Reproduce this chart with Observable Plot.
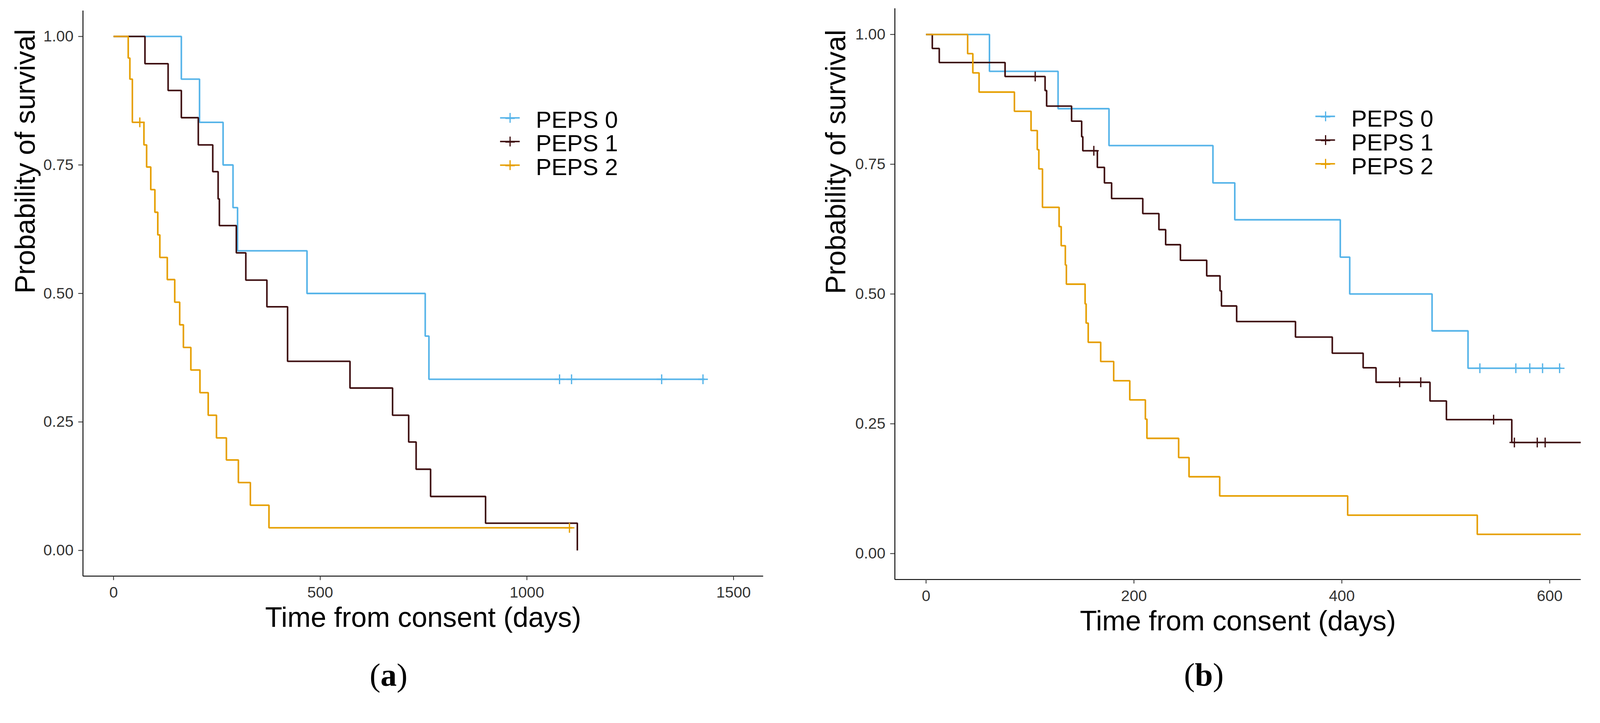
<!DOCTYPE html>
<html>
<head>
<meta charset="utf-8">
<script src="https://cdn.jsdelivr.net/npm/d3@7"></script>
<script src="https://cdn.jsdelivr.net/npm/@observablehq/plot@0.6"></script>
<style>
  html, body { margin: 0; padding: 0; background: #fff; overflow: hidden; }
  #root { position: absolute; left: 0; top: 0; width: 4233px; height: 1850px; background: #fff; overflow: hidden; transform-origin: 0 0; }
  .panel { position: absolute; top: 0; }
  #overlay { position: absolute; left: 0; top: 0; pointer-events: none; }
</style>
</head>
<body>
<div id="root"></div>
<script>
// ---------- data ----------
const groups = ["PEPS 0", "PEPS 1", "PEPS 2"];
const colors = ["#56B4E9", "#3F1012", "#E69F00"];
const yTicks = [0, 0.25, 0.5, 0.75, 1];
const xTicksA = [0, 500, 1000, 1500];
const xTicksB = [0, 200, 400, 600];
const xLabel = "Time from consent (days)";
const yLabel = "Probability of survival";
const captions = ["a", "b"];

// Panel (a): Kaplan-Meier steps (time in days, survival after the step)
const a0_t = [0, 164, 208, 265, 289, 300, 468, 754, 763, 1430];
const a0_s = [1, 0.917, 0.833, 0.750, 0.667, 0.583, 0.500, 0.417, 0.333, 0.333];
const a0_ct = [1079, 1108, 1326, 1426];
const a0_cs = [0.333, 0.333, 0.333, 0.333];

const a1_t = [0, 76, 132, 164, 205, 240, 253, 256, 297, 320, 371, 421, 572, 675, 714, 732, 767, 900, 1122];
const a1_s = [1, 0.947, 0.895, 0.842, 0.789, 0.737, 0.684, 0.632, 0.579, 0.526, 0.474, 0.368, 0.316, 0.263, 0.211, 0.158, 0.105, 0.053, 0];
const a1_ct = [];
const a1_cs = [];

const a2_t = [0, 35.5, 39.5, 45.5, 73.5, 80, 90, 100, 107, 112, 130, 148, 160, 169, 187, 209, 229, 249, 273, 302, 331, 376, 1110];
const a2_s = [1, 0.958, 0.917, 0.833, 0.789, 0.746, 0.702, 0.658, 0.614, 0.570, 0.527, 0.483, 0.439, 0.395, 0.351, 0.307, 0.263, 0.219, 0.176, 0.132, 0.088, 0.044, 0.044];
const a2_ct = [63.5, 1103];
const a2_cs = [0.833, 0.044];

// Panel (b)
const b0_t = [0, 61, 127, 176, 276, 297, 398.5, 407.6, 486.8, 521.4, 611];
const b0_s = [1, 0.929, 0.857, 0.786, 0.714, 0.643, 0.571, 0.500, 0.429, 0.357, 0.357];
const b0_ct = [532.8, 567.4, 580.8, 593.1, 609.5];
const b0_cs = [0.357, 0.357, 0.357, 0.357, 0.357];

const b1_t = [0, 6, 12.7, 76, 114.5, 116, 140, 149.7, 150.8, 164.8, 171.6, 178.5, 208.5, 224, 230.5, 244.7, 270, 282.8, 284.2, 298.8, 355.4, 390.8, 420.5, 432.9, 484.8, 500.6, 563.5, 660];
const b1_s = [1, 0.973, 0.946, 0.919, 0.892, 0.862, 0.833, 0.803, 0.776, 0.744, 0.714, 0.684, 0.655, 0.624, 0.595, 0.565, 0.535, 0.506, 0.477, 0.447, 0.417, 0.386, 0.358, 0.330, 0.294, 0.258, 0.214, 0.214];
const b1_ct = [105, 161.4, 455.6, 475.9, 546, 566, 588, 595.6];
const b1_cs = [0.919, 0.776, 0.330, 0.330, 0.258, 0.214, 0.214, 0.214];

const b2_t = [0, 40, 45, 51, 85, 101, 107, 108.5, 112, 128, 130, 134, 135, 153, 154, 156, 168, 180.5, 196, 211, 212.5, 243, 253, 282.5, 405.6, 530.3, 660];
const b2_s = [1, 0.963, 0.926, 0.889, 0.852, 0.815, 0.778, 0.741, 0.667, 0.630, 0.593, 0.556, 0.519, 0.481, 0.444, 0.407, 0.370, 0.333, 0.296, 0.259, 0.222, 0.185, 0.148, 0.111, 0.074, 0.037, 0.037];
const b2_ct = [];
const b2_cs = [];

// ---------- helpers ----------
const zip = (t, s) => t.map((v, i) => ({t: v, s: s[i]}));
const FONT = "'Liberation Sans', Arial, Helvetica, sans-serif";
const plusSymbol = {
  draw(ctx) {
    const r = 13;
    ctx.moveTo(-r, 0); ctx.lineTo(r, 0);
    ctx.moveTo(0, -r); ctx.lineTo(0, r);
  }
};

function makePanel(cfg) {
  const marks = [
    Plot.ruleY([-0.05], {stroke: "#000", strokeWidth: 2.4}),
    Plot.ruleX([cfg.xDomain[0]], {stroke: "#000", strokeWidth: 2.4}),
    Plot.axisX({ticks: cfg.xTicks, tickSize: 11, tickPadding: 17, fontSize: 41, color: "#333", strokeWidth: 2.2, label: null, tickFormat: d3.format("d")}),
    Plot.axisY({ticks: yTicks, tickSize: 12, tickPadding: 13, fontSize: 41, color: "#333", strokeWidth: 2.2, label: null, tickFormat: d3.format(".2f")}),
    Plot.text([xLabel], {text: d => d, frameAnchor: "bottom", dy: 134, lineAnchor: "bottom", fontSize: 74, fill: "#000"}),
    Plot.text([yLabel], {text: d => d, frameAnchor: "left", rotate: -90, dx: cfg.yLabelDx, lineAnchor: "bottom", fontSize: 74, fill: "#000"})
  ];
  cfg.series.forEach((ser, i) => {
    marks.push(Plot.line(zip(ser.t, ser.s), {x: "t", y: "s", curve: "step-after", stroke: colors[i], strokeWidth: 4.2, strokeLinejoin: "miter", strokeLinecap: "butt", clip: true}));
  });
  cfg.series.forEach((ser, i) => {
    if (ser.ct.length) marks.push(Plot.dot(zip(ser.ct, ser.cs), {x: "t", y: "s", symbol: plusSymbol, r: 5, stroke: colors[i], strokeWidth: 3.4, fill: "none", clip: true}));
  });
  const svg = Plot.plot({
    width: cfg.width, height: cfg.height,
    marginLeft: cfg.mL, marginRight: cfg.mR, marginTop: cfg.mT, marginBottom: cfg.mB,
    x: {domain: cfg.xDomain},
    y: {domain: [-0.05, 1.05]},
    style: {fontFamily: FONT, fontSize: "41px", background: "transparent", overflow: "visible", color: "#000", maxWidth: "none"},
    marks
  });
  svg.classList.add("panel");
  svg.style.left = cfg.left + "px";
  svg.style.position = "absolute";
  svg.style.top = "0px";
  return svg;
}

const root = document.getElementById("root");

root.appendChild(makePanel({
  left: 0, width: 2100, height: 1700, mL: 219, mR: 81, mT: 28, mB: 177,
  xDomain: [-74, 1572], xTicks: xTicksA, yLabelDx: -128,
  series: [
    {t: a0_t, s: a0_s, ct: a0_ct, cs: a0_cs},
    {t: a1_t, s: a1_s, ct: a1_ct, cs: a1_cs},
    {t: a2_t, s: a2_s, ct: a2_ct, cs: a2_cs}
  ]
}));

root.appendChild(makePanel({
  left: 2100, width: 2133, height: 1700, mL: 267, mR: 51, mT: 22, mB: 168,
  xDomain: [-30, 630], xTicks: xTicksB, yLabelDx: -131,
  series: [
    {t: b0_t, s: b0_s, ct: b0_ct, cs: b0_cs},
    {t: b1_t, s: b1_s, ct: b1_ct, cs: b1_cs},
    {t: b2_t, s: b2_s, ct: b2_ct, cs: b2_cs}
  ]
}));

// ---------- legends and captions ----------
const ov = d3.select(root).append("svg")
  .attr("id", "overlay").attr("width", 4233).attr("height", 1850);

const legends = [
  {x1: 1323, x2: 1375, px: 1349.5, ky: 311.7, tx: 1417.6, ty: 337.9, step: 62.5},
  {x1: 3480, x2: 3532, px: 3507, ky: 307.7, tx: 3575, ty: 335.2, step: 62.7}
];
legends.forEach(L => {
  groups.forEach((g, i) => {
    const cy = L.ky + i * L.step;
    ov.append("line").attr("x1", L.x1).attr("x2", L.x2).attr("y1", cy).attr("y2", cy)
      .attr("stroke", colors[i]).attr("stroke-width", 4);
    ov.append("line").attr("x1", L.px - 12.5).attr("x2", L.px + 12.5).attr("y1", cy + 1).attr("y2", cy + 1)
      .attr("stroke", colors[i]).attr("stroke-width", 4);
    ov.append("line").attr("x1", L.px).attr("x2", L.px).attr("y1", cy - 13).attr("y2", cy + 13)
      .attr("stroke", colors[i]).attr("stroke-width", 3.2);
    ov.append("text").attr("x", L.tx).attr("y", L.ty + i * L.step)
      .attr("font-family", FONT).attr("font-size", 62).attr("fill", "#000").text(g);
  });
});

const capPos = [{x: 1028, y: 1814}, {x: 3185, y: 1813}];
captions.forEach((c, i) => {
  const t = ov.append("text").attr("x", capPos[i].x).attr("y", capPos[i].y)
    .attr("text-anchor", "middle")
    .attr("font-family", "'Liberation Serif', 'Times New Roman', serif")
    .attr("font-size", 86).attr("fill", "#000");
  t.append("tspan").text("(");
  t.append("tspan").attr("font-weight", "bold").text(c);
  t.append("tspan").text(")");
});

// Fit the 4233x1850 layout into the actual viewport (in case it differs)
function fit() {
  const w = document.documentElement.clientWidth || window.innerWidth;
  const h = document.documentElement.clientHeight || window.innerHeight;
  const s = Math.min(w / 4233, h / 1850);
  root.style.transform = (s > 0 && Math.abs(s - 1) > 0.002) ? `scale(${s})` : "";
}
fit();
window.addEventListener("resize", fit);
</script>
</body>
</html>
